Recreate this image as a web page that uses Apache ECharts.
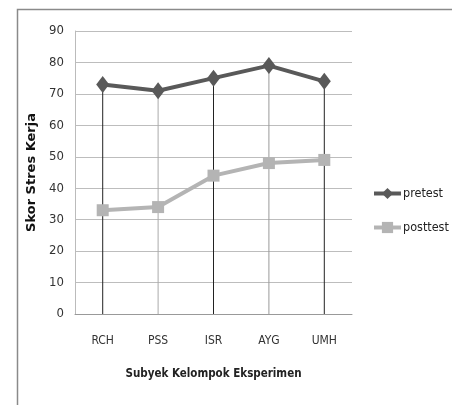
<!DOCTYPE html>
<html><head><meta charset="utf-8">
<script src="https://cdn.jsdelivr.net/npm/echarts@6/dist/echarts.min.js"></script>
<style>html,body{margin:0;padding:0;background:#fff}#c{width:452px;height:405px}</style>
</head><body><div id="c"></div>
<script>
const categories = ['RCH', 'PSS', 'ISR', 'AYG', 'UMH'];
const pretest = [73, 71, 75, 79, 74];
const posttest = [33, 34, 44, 48, 49];
const yTicks = [0, 10, 20, 30, 40, 50, 60, 70, 80, 90];

const narrow = '"DejaVu Sans Condensed", "Liberation Sans Narrow", sans-serif';
const dropColors = ['#222', '#aaa', '#222', '#999', '#222'];
const chart = echarts.init(document.getElementById('c'));
chart.setOption({
  animation: false,
  graphic: [{
    type: 'rect', left: 15, top: 7, shape: { width: 460, height: 420 },
    style: { fill: 'none', stroke: '#8a8a8a', lineWidth: 1.5 }, silent: true
  }],
  grid: { left: 75, right: 100, top: 31, bottom: 91 },
  legend: {
    data: ['pretest', 'posttest'], orient: 'vertical', left: 367, top: 182,
    itemGap: 21, itemWidth: 27, itemHeight: 14,
    lineStyle: { width: 4 },
    textStyle: { fontFamily: narrow, fontSize: 12.5, color: '#222', padding: [0, 0, 0, -3] }
  },
  xAxis: {
    type: 'category', data: categories, boundaryGap: true,
    name: 'Subyek Kelompok Eksperimen', nameLocation: 'middle', nameGap: 54,
    nameTextStyle: { fontFamily: narrow, fontWeight: 'bold', fontSize: 11.5, color: '#222' },
    axisLine: { lineStyle: { color: '#999' } }, axisTick: { show: false },
    axisLabel: { margin: 21, fontFamily: narrow, fontSize: 12, color: '#333' }
  },
  yAxis: {
    type: 'value', min: 0, max: 90, interval: 10,
    name: 'Skor Stres Kerja', nameLocation: 'middle', nameGap: 33,
    nameTextStyle: { fontFamily: '"DejaVu Sans", sans-serif', fontWeight: 'bold', fontSize: 13, color: '#111' },
    axisLine: { show: true, lineStyle: { color: '#bbb' } }, axisTick: { show: false },
    axisLabel: { margin: 11, fontFamily: narrow, fontSize: 13, color: '#333',
      formatter: v => yTicks.includes(v) ? String(v) : '' },
    splitLine: { lineStyle: { color: '#bdbdbd' } }
  },
  series: [
    { name: 'drop', type: 'bar', data: pretest, barWidth: 1, silent: true, z: 1,
      itemStyle: { color: p => dropColors[p.dataIndex] }, legendHoverLink: false },
    { name: 'pretest', type: 'line', data: pretest, symbol: 'diamond', symbolSize: [13, 17],
      lineStyle: { width: 4, color: '#595959' }, itemStyle: { color: '#595959' }, z: 3 },
    { name: 'posttest', type: 'line', data: posttest, symbol: 'rect', symbolSize: 12,
      lineStyle: { width: 4, color: '#b4b4b4' }, itemStyle: { color: '#b4b4b4' }, z: 3 }
  ]
});
</script></body></html>
